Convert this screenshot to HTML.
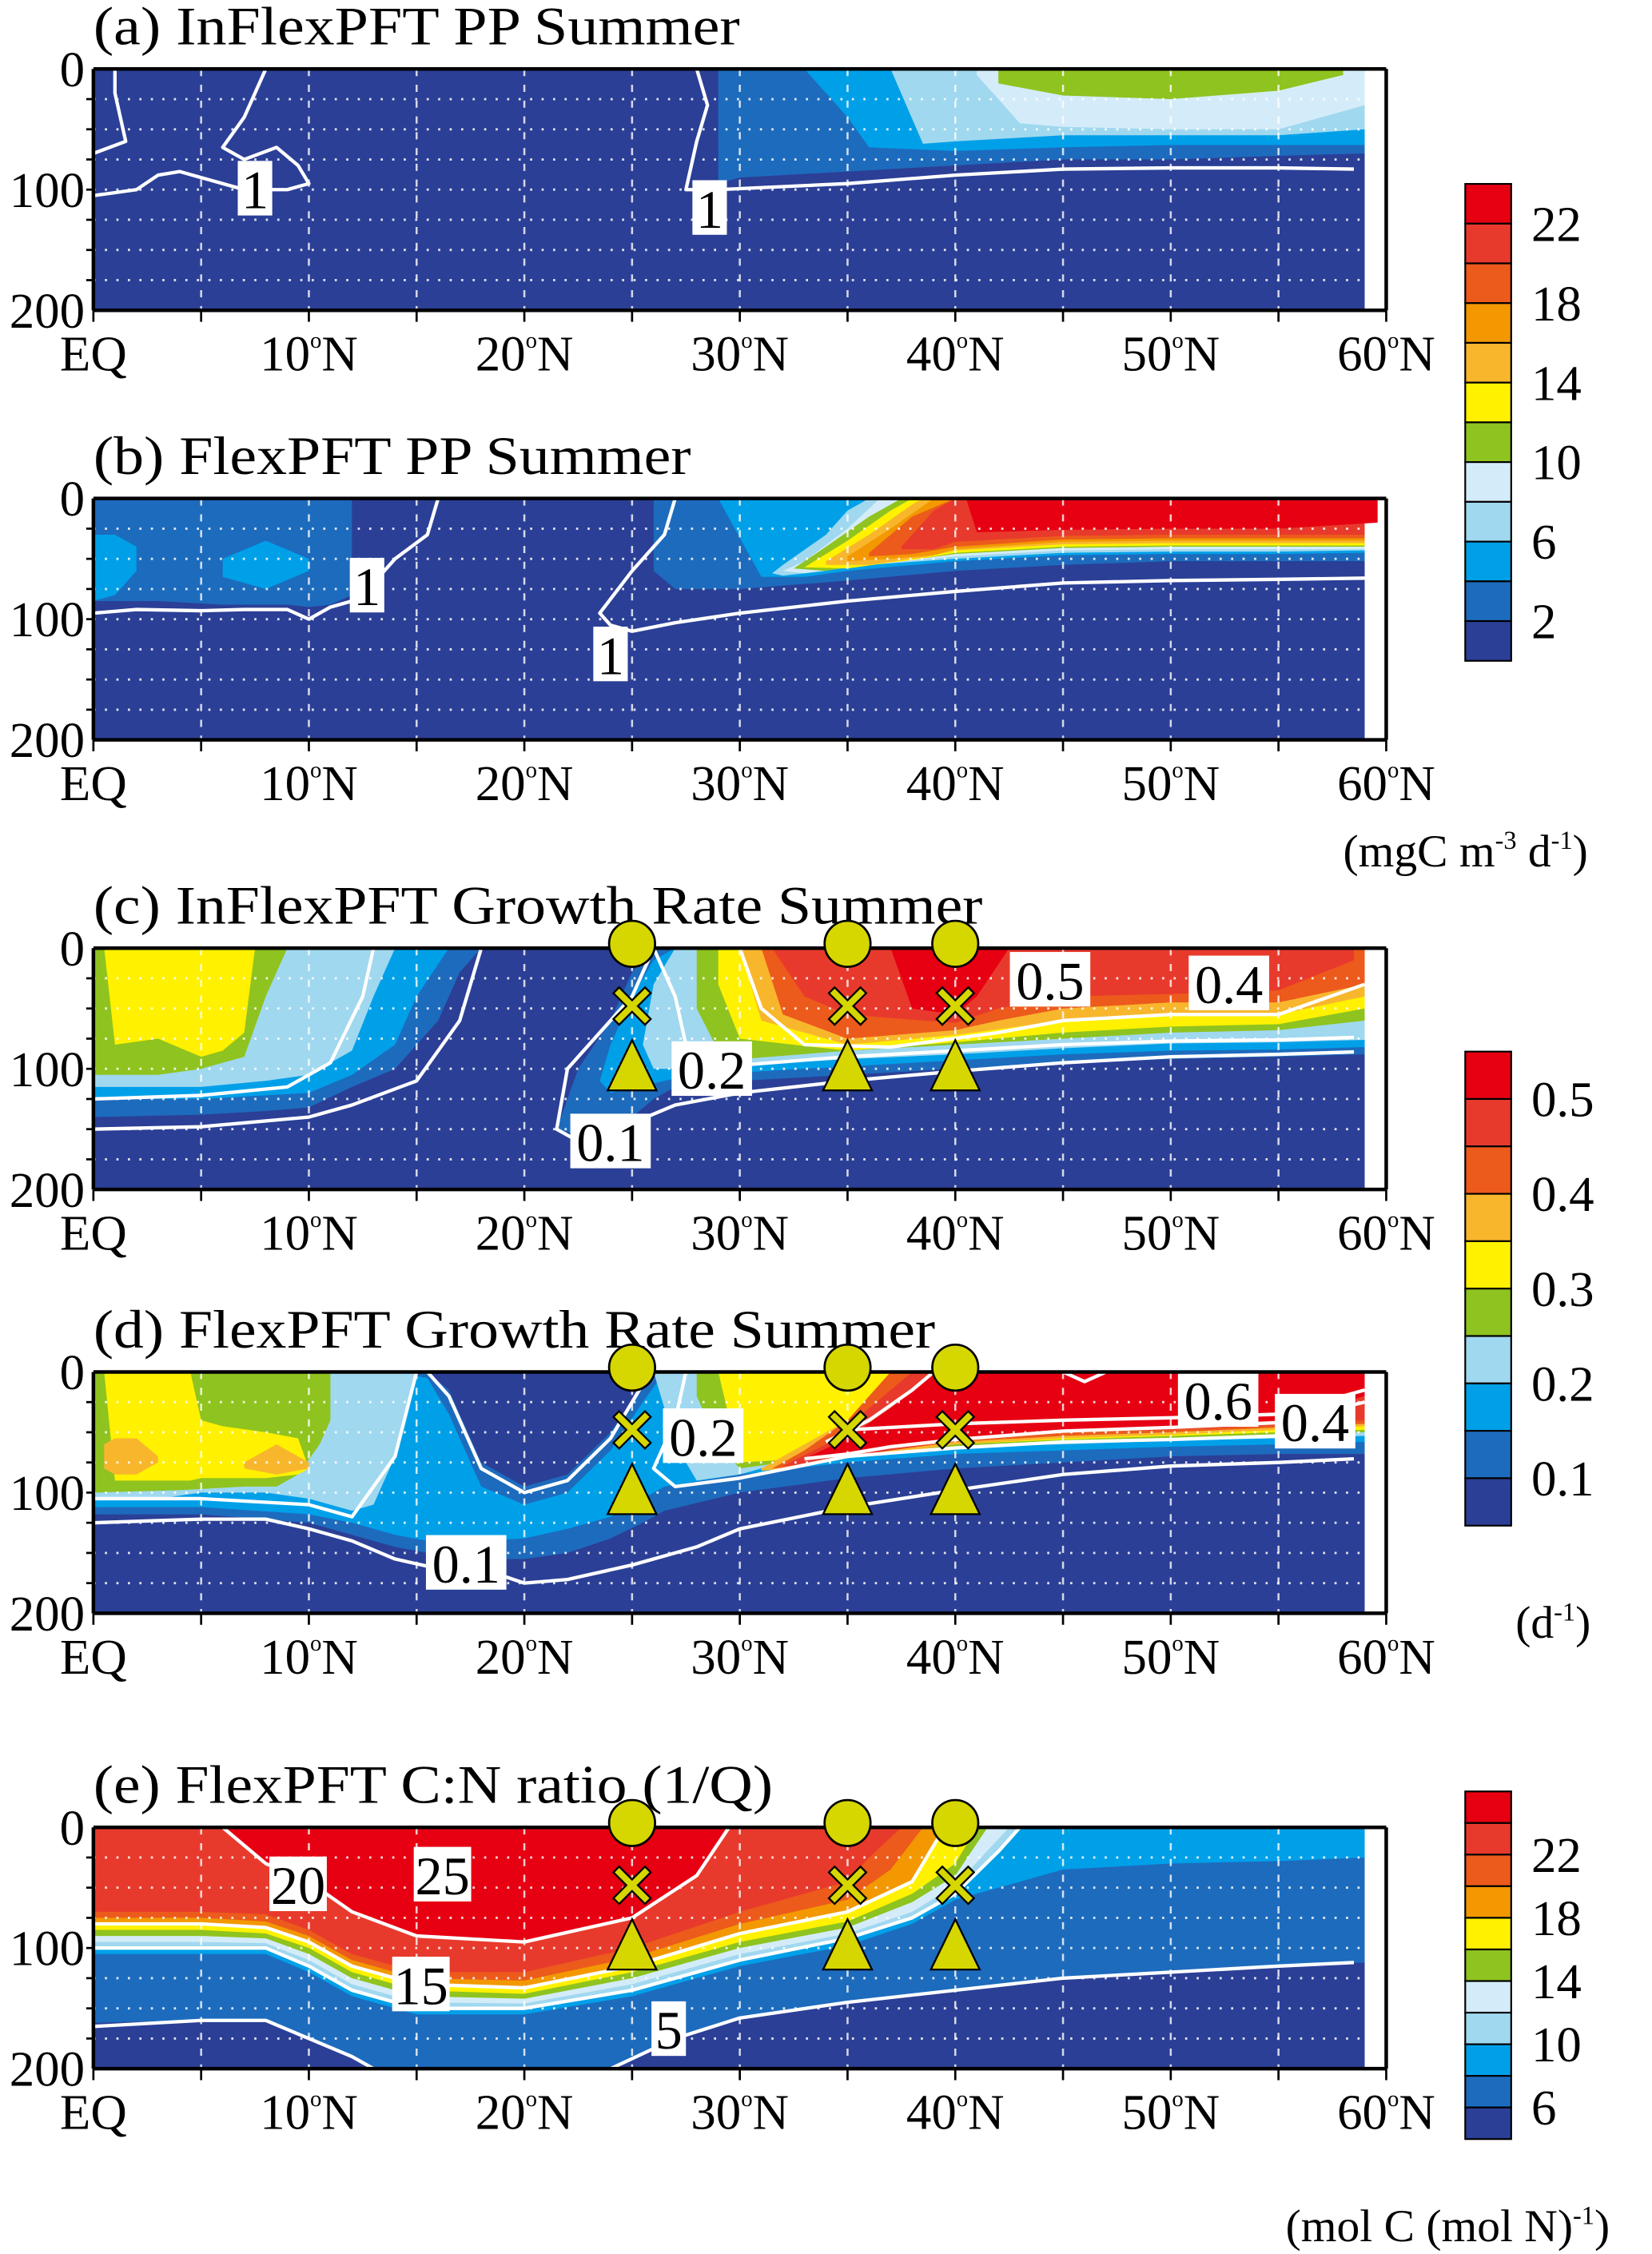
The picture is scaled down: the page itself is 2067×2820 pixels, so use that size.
<!DOCTYPE html>
<html><head><meta charset="utf-8"><style>
html,body{margin:0;padding:0;background:#fff;}
svg{display:block;font-family:"Liberation Serif","Times New Roman",serif;}
svg text{font-family:"Liberation Serif","Times New Roman",serif;fill:#000;}
</style></head><body>
<svg id="fig" xmlns="http://www.w3.org/2000/svg" width="2067" height="2820" viewBox="0 0 1150 1569" font-family="Liberation Serif, serif"></svg>
<script>
// ---------- colour scales ----------
const ppColors = ['#2b3f96','#1d6bbd','#00a0e9','#a0d8ef','#d4ecf9','#8fc31f','#fff100','#f8b62d','#f39800','#ec5a1c','#e83a2c','#e60012'];
const grColors = ['#2b3f96','#1d6bbd','#00a0e9','#a0d8ef','#8fc31f','#fff100','#f8b62d','#ec5a1c','#e83a2c','#e60012'];
const cnColors = ['#2b3f96','#1d6bbd','#00a0e9','#a0d8ef','#d4ecf9','#8fc31f','#fff100','#f39800','#ec5a1c','#e83a2c','#e60012'];
const ppTicks = ['22','18','14','10','6','2'];
const grTicks = ['0.5','0.4','0.3','0.2','0.1'];
const cnTicks = ['22','18','14','10','6'];
const xTickLats = [0,10,20,30,40,50,60];
const markerLats = [25,35,40];

// ---------- contour regions: [level, lats, topDepths (0=surface), bottomDepths] ----------
const regionsA = [
 [1,[29,30,35,40,45,50,55,59],0,[95,90,85,80,75,75,72,70]],
 [2,[33,35,36,40,45,50,55,59],0,[0,40,65,68,65,63,63,63]],
 [3,[37,38.5,40,45,50,55,59],0,[0,62,60,55,55,55,50]],
 [4,[41,43,45,50,55,59],0,[5,45,48,50,50,30]],
 [5,[42,45,50,55,58],0,[12,22,25,18,5]]
];
const regionsB = [
 [1,[0,3,6,9,10,11,12],0,[85,85,88,88,90,88,80]],
 [1,[26,27,30,35,40,45,50,55,59],0,[60,75,75,68,60,55,52,52,52]],
 [2,[0,1,2],[30,30,40],[85,80,60]],
 [2,[6,8,10],[50,35,50],[65,75,60]],
 [2,[29,31,33,35,40,45,50,55,59],0,[0,65,65,60,52,47,46,46,45]],
 [3,[31.5,32,34,35,36,40,45,50,55,59],[62,55,30,10,0,0,0,0,0,0],[62,64,60,57,55,50,45,44,44,43]],
 [4,[32,33,35,36.5,40,45,50,55,59],[60,52,25,0,0,0,0,0,0],[60,62,57,54,48,43,42,42,42]],
 [5,[32.5,34,36,37.5,40,45,50,55,59],[58,40,15,0,0,0,0,0,0],[58,60,54,52,46,41,40,40,40]],
 [6,[33,35,37,38,40,45,50,55,59],[57,35,10,0,0,0,0,0,0],[57,58,53,51,45,40,39,39,39]],
 [7,[34,36,38,38.5,40,45,50,55,59],[52,30,5,0,0,0,0,0,0],[55,55,50,49,43,38,37,37,37]],
 [8,[35,37,39,40,45,50,55,59],[48,25,0,0,0,0,0,0],[52,50,47,42,36,35,35,35]],
 [9,[36,38,40,45,50,55,59],[45,15,0,0,0,0,0],[48,46,40,34,33,33,33]],
 [10,[37.5,39,40,45,50,55,59],[40,10,0,0,0,0,0],[42,42,36,31,30,30,30]],
 [11,[40.5,41,45,50,55,59.6],0,[0,28,26,25,25,20]]
];
const regionsC = [
 [1,[0,5,8,10,12,14,16,17,18],0,[140,138,135,132,115,100,60,20,0]],
 [1,[21.5,22.5,24,25,26,27,30,35,40,45,50,55,59],[150,100,60,20,0,0,0,0,0,0,0,0,0],[150,155,150,140,125,115,110,105,100,95,92,90,88]],
 [2,[0,5,8,10,12,14,15,16.5],0,[125,125,122,120,105,80,40,0]],
 [2,[23.5,24,25,26,27,30,35,40,45,50,55,59],[110,80,40,10,0,0,0,0,0,0,0,0],[110,120,115,112,108,103,98,93,88,85,84,82]],
 [3,[0,5,8,10,12,13,14],0,[115,115,110,105,85,40,0]],
 [3,[25.5,26,27,28,30,35,40,45,50,55,59],[80,30,0,0,0,0,0,0,0,0,0],[80,100,100,100,97,92,88,83,79,78,76]],
 [4,[0,3,5,7,8,9],0,[105,105,100,90,40,0]],
 [4,[28,29,30,35,40,45,50,55,59],0,[50,85,92,85,80,75,70,68,60]],
 [5,[0.5,1,3,5,6,7,7.5],0,[0,80,75,90,85,70,0]],
 [5,[29,30,35,40,45,50,55,59],0,[30,75,85,78,70,65,63,50]],
 [6,[30,31,35,40,45,50,55,59],0,[0,60,80,72,60,55,55,40]],
 [7,[31,32,35,40,42,45,50,55,59],0,[0,55,75,68,60,50,45,45,30]],
 [8,[31.5,33,35,40,42,45,50,55,58.5],0,[0,40,55,62,50,40,38,35,10]],
 [9,[37,38,40,41,42.5],0,[0,50,55,40,0]]
];
const regionsD = [
 [1,[0,5,10,12,14,15.5,16.5,18,20,22,24,25.5,26.5,30,35,40,45,50,55,59],[0,0,0,0,0,0,15,75,95,85,50,10,0,0,0,0,0,0,0,0],[118,118,125,135,145,150,152,155,155,150,138,125,115,100,88,80,75,70,68,68]],
 [2,[0,5,10,12,14,15.5,16.5,18,20,22,24,25.5,26.5,30,35,40,45,50,55,59],[0,0,0,0,0,5,35,95,110,100,65,25,0,0,0,0,0,0,0,0],[112,112,118,125,135,140,140,140,138,130,120,105,95,85,75,68,65,62,60,58]],
 [3,[0,3,5,8,10,12,13,14,15],0,[105,105,100,100,105,115,110,70,0]],
 [3,[26,27,28,30,33,35,40,45,50,55,59],0,[0,60,90,85,70,65,62,60,57,55,53]],
 [4,[0,4,7,8.5,9.5,10.5,11],0,[100,98,95,95,85,60,40]],
 [4,[28,29,30,32,35,40,45,50,55,59],0,[20,60,80,75,68,62,58,55,52,50]],
 [5,[0.5,1,3,4.5,5,6,8,9.5,10],[0,0,0,0,40,45,50,55,80],[0,90,90,90,88,88,88,85,80]],
 [5,[29,30,33,35,40,45,50,55,59],0,[0,75,72,65,60,56,53,50,48]],
 [6,[0.5,1,2,3],[60,55,55,70],[80,85,85,75]],
 [6,[7,8.5,10],[75,60,75],[80,85,80]],
 [6,[31,32,35,38,40,45,50,55,59],[80,70,40,0,0,0,0,0,0],[82,80,70,65,60,55,52,48,45]],
 [7,[31.5,33,35,37,40,45,50,55,59],[80,65,40,0,0,0,0,0,0],[80,78,70,65,58,53,50,46,43]],
 [8,[32,34,36,38,40,45,50,55,59],[78,60,30,0,0,0,0,0,0],[78,75,68,62,57,50,48,44,40]],
 [9,[33,35,37,39,40,45,50,55,59],[72,55,30,0,0,0,0,0,0],[72,70,62,58,55,48,45,40,20]]
];
const regionsE = [
 [1,[0,5,8,10,12,13,14,24,27,30,35,40,45,50,55,59],0,[162,160,160,175,190,200,200,200,175,158,145,135,125,120,115,112]],
 [2,[0,5,8,10,12,15,20,25,30,35,38,40,45,50,55,59],0,[105,105,105,120,140,155,155,140,115,98,80,60,35,30,28,25]],
 [3,[0,5,8,10,12,15,20,25,30,35,38,40,42,43],0,[100,100,100,115,135,150,150,135,110,92,75,55,20,0]],
 [4,[0,5,8,10,12,15,20,25,30,35,38,40,42.5],0,[95,95,96,110,130,145,146,130,105,88,70,48,0]],
 [5,[0,5,8,10,12,15,20,25,30,35,38,40,41.5],0,[90,90,92,105,125,140,142,125,100,83,62,40,0]],
 [6,[0,5,8,10,12,15,20,25,30,35,38,40,41],0,[85,85,88,100,120,135,138,120,95,78,55,30,0]],
 [7,[0,5,8,10,12,15,20,25,30,35,38,39.5],0,[80,80,83,95,115,130,133,115,88,70,45,0]],
 [8,[0,5,8,10,12,15,20,25,30,35,37,38.5],0,[75,75,78,90,110,125,127,108,80,60,35,0]],
 [9,[0,5,8,10,12,15,20,25,30,35,36,37.5],0,[70,70,72,85,105,120,120,100,70,45,25,0]],
 [10,[6,8,10,12,15,20,25,28,29.5],0,[0,30,45,70,90,95,75,40,0]]
];

// ---------- contour lines [lat, depth] and labels [text, lat, depth] ----------
const linesA = [
 [[0,105],[2,100],[3,88],[4,85],[5,90],[7,100],[9,100],[10,95],[9.5,80],[8.5,65],[7,75],[6,65],[7,40],[7.5,20],[8,0]],
 [[0,70],[1.5,60],[1,20],[1,0]],
 [[28,0],[28.5,30],[28,60],[27.5,100],[29,100],[35,95],[40,88],[45,83],[50,82],[55,82],[58.5,83]]
];
const labelsA = [['1',7.5,100],['1',28.6,116]];
const linesB = [
 [[0,95],[2,92],[5,93],[7,92],[9,92],[10,100],[11,90],[12,85],[13,70],[14,50],[15.5,30],[16,0]],
 [[27,0],[26.5,30],[25,60],[23.5,95],[24,105],[25,110],[27,103],[30,95],[35,85],[40,77],[45,70],[50,68],[55,67],[59,66]]
];
const labelsB = [['1',12.7,73],['1',24,130]];
const linesC = [
 [[0,150],[5,148],[10,140],[12,130],[15,110],[17,60],[18,0]],
 [[26,0],[25,40],[22,100],[21.5,150],[22.5,160],[25,145],[27,130],[30,120],[35,110],[40,102],[45,95],[50,90],[55,88],[58.5,86]],
 [[0,125],[5,122],[9,115],[11,95],[12.5,40],[13,0]],
 [[26,0],[27,40],[27.5,80],[28,100],[30,97],[35,90],[40,85],[45,80],[50,77],[55,76],[58.5,74]],
 [[30,0],[31,50],[33,80],[37,82],[42,70],[45,60],[50,55],[55,55],[59,30]]
];
const labelsC = [['0.1',24,161],['0.2',28.7,101],['0.5',44.4,27],['0.4',52.7,30]];
const linesD = [
 [[0,125],[5,122],[8,122],[10,130],[12,140],[14,155],[16,163],[18,163],[20,175],[22,172],[25,160],[28,145],[30,130],[35,112],[40,98],[45,85],[50,78],[55,75],[58.5,72]],
 [[15.5,0],[16.5,20],[18,80],[20,100],[22,90],[24,55],[25.5,10],[26,0]],
 [[0,105],[5,105],[10,110],[12,120],[14,70],[15,0]],
 [[27.5,0],[27,40],[26,80],[27,95],[30,88],[35,70],[40,63],[45,58],[50,56],[55,53],[58.5,52]],
 [[33,72],[35,68],[37,62],[40,56],[45,49],[50,46],[55,42],[59,25]],
 [[34,58],[36,40],[38,15],[39,0]],
 [[35,48],[40,43],[45,40],[50,38],[55,35],[59,15]],
 [[45,0],[46,8],[47,0]]
];
const labelsD = [['0.1',17.3,159],['0.2',28.3,54],['0.6',52.2,24],['0.4',56.7,42]];
const linesE = [
 [[0,165],[5,160],[8,160],[10,175],[12,190],[13,200]],
 [[24,200],[27,175],[30,158],[35,145],[40,135],[45,125],[50,120],[55,115],[58.5,112]],
 [[0,80],[5,80],[8,83],[10,95],[12,115],[15,130],[20,133],[25,115],[30,88],[35,70],[38,45],[39.5,0]],
 [[0,100],[5,100],[8,100],[10,115],[12,135],[15,150],[20,150],[25,135],[30,110],[35,92],[38,75],[40,55],[42,20],[43,0]],
 [[6,0],[8,30],[10,45],[12,70],[15,90],[20,95],[25,75],[28,40],[29.5,0]]
];
const labelsE = [['20',9.5,48],['25',16.2,40],['15',15.2,131],['5',26.7,168]];

// ---------- layout ----------
const NS = 'http://www.w3.org/2000/svg';
const svg = document.getElementById('fig');
const FONT = '"Liberation Serif", serif';
const X0 = 65, PXDEG = 15, PH = 168;
function mk(tag, attrs, parent){const e=document.createElementNS(NS,tag);for(const k in attrs)e.setAttribute(k,attrs[k]);if(tag==='text')e.setAttribute('font-family',FONT);(parent||svg).appendChild(e);return e;}
function xs(lat){return X0+lat*PXDEG;}

const panels = [
 {id:'a',top:48,title:'(a) InFlexPFT PP Summer',tw:450,regions:regionsA,colors:ppColors,lines:linesA,labels:labelsA,markers:false},
 {id:'b',top:347,title:'(b) FlexPFT PP Summer',tw:416,regions:regionsB,colors:ppColors,lines:linesB,labels:labelsB,markers:false},
 {id:'c',top:660,title:'(c) InFlexPFT Growth Rate Summer',tw:619,regions:regionsC,colors:grColors,lines:linesC,labels:labelsC,markers:true},
 {id:'d',top:955,title:'(d) FlexPFT Growth Rate Summer',tw:586,regions:regionsD,colors:grColors,lines:linesD,labels:labelsD,markers:true},
 {id:'e',top:1272,title:'(e) FlexPFT C:N ratio (1/Q)',tw:473,regions:regionsE,colors:cnColors,lines:linesE,labels:labelsE,markers:true}
];

panels.forEach(p=>{
  const g = mk('g',{});
  
  
  const ys = d=>p.top+d*PH/200;
  const t = mk('text',{x:X0,y:p.top-17,'font-size':38,textLength:p.tw,lengthAdjust:'spacingAndGlyphs'},g);
  t.textContent=p.title;
  
  
  const bg = mk('rect',{x:xs(0),y:ys(0),width:xs(59)-xs(0),height:PH,fill:p.colors[0]},g);
  
  
  p.regions.forEach(r=>{
    const [lev,lats,tops,bots]=r;
    const pts=[];
    lats.forEach((la,i)=>pts.push(xs(la)+','+ys(Array.isArray(tops)?tops[i]:0)));
    for(let i=lats.length-1;i>=0;i--)pts.push(xs(lats[i])+','+ys(bots[i]));
    const poly = mk('polygon',{points:pts.join(' '),fill:p.colors[lev]},g);
    
    
  });
  for(let d=25; d<200; d+=25){
    const l = mk('line',{x1:xs(0),x2:xs(59),y1:ys(d),y2:ys(d),stroke:'#fff','stroke-width':1.6,'stroke-dasharray':'1.5 6.5',opacity:0.85},g);
    
    
  }
  for(let la=5; la<60; la+=5){
    const l = mk('line',{x1:xs(la),x2:xs(la),y1:ys(0),y2:ys(200),stroke:'#fff','stroke-width':1.4,'stroke-dasharray':'5 6',opacity:0.8},g);
    
    
  }
  p.lines.forEach(ln=>{
    const pl = mk('polyline',{points:ln.map(q=>xs(q[0])+','+ys(q[1])).join(' '),fill:'none',stroke:'#fff','stroke-width':2.4,'stroke-linejoin':'round'},g);
    
    
  });
  p.labels.forEach(lb=>{
    const w = lb[0].length*16+8;
    const cx=xs(lb[1]), cy=ys(lb[2]);
    const rr = mk('rect',{x:cx-w/2,y:cy-20,width:w,height:38,fill:'#fff'},g);
    
    
    const tt = mk('text',{x:cx,y:cy+13,'font-size':38,'text-anchor':'middle'},g);
    tt.textContent=lb[0];
    
    
  });
  const fr = mk('path',{d:`M${xs(0)},${ys(0)} H${xs(60)} M${xs(0)},${ys(200)} H${xs(60)} M${xs(0)},${ys(0)} V${ys(200)} M${xs(60)},${ys(0)} V${ys(200)}`,stroke:'#000','stroke-width':2.5,fill:'none'},g);
  
  
  for(let la=0; la<=60; la+=5){
    const tk = mk('line',{x1:xs(la),x2:xs(la),y1:ys(200),y2:ys(200)+8,stroke:'#000','stroke-width':1.5},g);
    
    
  }
  for(let d=25; d<200; d+=25){
    const tk = mk('line',{x1:xs(0)-5,x2:xs(0),y1:ys(d),y2:ys(d),stroke:'#000','stroke-width':1.5},g);
    
    
  }
  [0,100,200].forEach(d=>{
    const tt = mk('text',{x:59,y:ys(d)+12,'font-size':35,'text-anchor':'end'},g);
    tt.textContent=String(d);
    
    
  });
  xTickLats.forEach(la=>{
    const tt = mk('text',{x:xs(la),y:ys(200)+42,'font-size':35,'text-anchor':'middle'},g);
    
    
    if(la===0){tt.textContent='EQ';}
    else{
      const a=mk('tspan',{},tt);a.textContent=String(la);
      const b=mk('tspan',{'font-size':16,dy:-16},tt);b.textContent='o';
      const c=mk('tspan',{dy:16},tt);c.textContent='N';
    }
  });
  if(p.markers){
    markerLats.forEach(la=>{
      const cx=xs(la);
      const c = mk('circle',{cx:cx,cy:ys(0)-3,r:16,fill:'#d6d600',stroke:'#000','stroke-width':1.5},g);
      
      
      const y2=ys(48);
      const xp = mk('path',{d:`M${cx-13},${y2-9} L${cx-4},${y2} L${cx-13},${y2+9} L${cx-9},${y2+13} L${cx},${y2+4} L${cx+9},${y2+13} L${cx+13},${y2+9} L${cx+4},${y2} L${cx+13},${y2-9} L${cx+9},${y2-13} L${cx},${y2-4} L${cx-9},${y2-13} Z`,fill:'#d6d600',stroke:'#000','stroke-width':1.3},g);
      
      
      const yt=ys(100);
      const tr = mk('polygon',{points:`${cx},${yt-20} ${cx-17},${yt+15} ${cx+17},${yt+15}`,fill:'#d6d600',stroke:'#000','stroke-width':1.3},g);
      
      
    });
  }
});

// ---------- colour bars ----------
function colorbar(name,colors,top,bottom){
  const g = mk('g',{});
  
  
  const n=colors.length, h=(bottom-top)/n;
  for(let i=0;i<n;i++){
    const r = mk('rect',{x:1020,y:top+i*h,width:32,height:h,fill:colors[n-1-i],stroke:'#000','stroke-width':1.2},g);
    
    
  }
  return {g,h};
}
const cb1 = colorbar('colorbar-pp',ppColors,128,460);
ppTicks.forEach((t,i)=>{const e=mk('text',{x:1066,y:128+cb1.h*(1+2*i)+12,'font-size':35},cb1.g);e.textContent=t;});
const cb2 = colorbar('colorbar-growth',grColors,732,1062);
grTicks.forEach((t,i)=>{const e=mk('text',{x:1066,y:732+cb2.h*(1+2*i)+12,'font-size':35},cb2.g);e.textContent=t;});
const cb3 = colorbar('colorbar-cn',cnColors,1247,1489);
cnTicks.forEach((t,i)=>{const e=mk('text',{x:1066,y:1247+cb3.h*(2+2*i)+12,'font-size':35},cb3.g);e.textContent=t;});

function units(name,x,y,parts){
  const t=mk('text',{x:x,y:y,'font-size':32});
  
  
  parts.forEach(pt=>{const s=mk('tspan',pt[1]?{'font-size':18,dy:-12}:{dy:pt[2]||0},t);s.textContent=pt[0];});
}
units('units-pp',935,603,[['(mgC m'],['-3',1],[' d',0,12],['-1',1],[')',0,12]]);
units('units-growth',1055,1140,[['(d'],['-1',1],[')',0,12]]);
units('units-cn',895,1560,[['(mol C (mol N)'],['-1',1],[')',0,12]]);
</script>
</body></html>
